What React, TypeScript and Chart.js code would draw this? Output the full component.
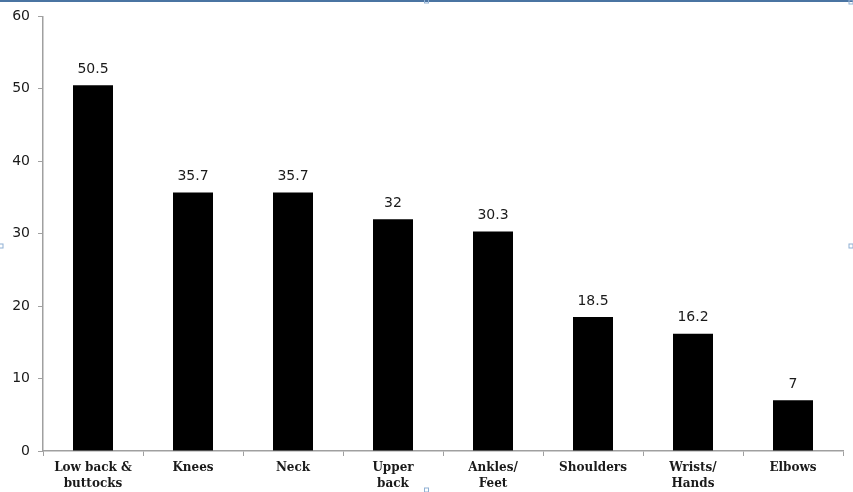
import React, { useEffect, useRef } from "react";
import { Chart, registerables } from "chart.js";

Chart.register(...registerables);

const categories: (string | string[])[] = [
  ["Low back &", "buttocks"],
  "Knees",
  "Neck",
  ["Upper", "back"],
  ["Ankles/", "Feet"],
  "Shoulders",
  ["Wrists/", "Hands"],
  "Elbows",
];
const values: number[] = [50.5, 35.7, 35.7, 32, 30.3, 18.5, 16.2, 7];
const yTicks: number[] = [0, 10, 20, 30, 40, 50, 60];

const axisGray = "#a0a0a0";

const valueLabels = {
  id: "valueLabels",
  afterDatasetsDraw(chart: any) {
    const ctx = chart.ctx;
    const meta = chart.getDatasetMeta(0);
    ctx.save();
    ctx.font = "14px 'DejaVu Sans'";
    ctx.fillStyle = "#1a1a1a";
    ctx.textAlign = "center";
    ctx.textBaseline = "bottom";
    meta.data.forEach((el: any, i: number) => {
      ctx.fillText(String(values[i]), el.x, el.y - 9);
    });
    ctx.restore();
  },
};

const frame = {
  id: "frame",
  afterDraw(chart: any) {
    const ctx = chart.ctx;
    const w = chart.width;
    const h = chart.height;
    ctx.save();
    ctx.strokeStyle = "#4a74a2";
    ctx.lineWidth = 2;
    ctx.beginPath();
    ctx.moveTo(0, 1);
    ctx.lineTo(w, 1);
    ctx.stroke();
    ctx.strokeStyle = "#8fb0d4";
    ctx.lineWidth = 1;
    const handles = [
      [w / 2, 1],
      [w - 2, 2],
      [1, h / 2],
      [w - 2, h / 2],
      [w / 2, h - 2],
    ];
    handles.forEach(([x, y]) => {
      ctx.strokeRect(x - 2, y - 2, 4, 4);
    });
    ctx.restore();
  },
};

export default function App() {
  const ref = useRef<HTMLCanvasElement | null>(null);
  useEffect(() => {
    if (!ref.current) return;
    const chart = new Chart(ref.current, {
      type: "bar",
      data: {
        labels: categories,
        datasets: [
          {
            data: values,
            backgroundColor: "#000000",
            borderWidth: 0,
            barPercentage: 0.4,
            categoryPercentage: 1.0,
          },
        ],
      },
      options: {
        animation: false,
        responsive: false,
        maintainAspectRatio: false,
        layout: { padding: { left: 0, right: 10, top: 14, bottom: 0 } },
        plugins: {
          legend: { display: false },
          tooltip: { enabled: false },
        },
        scales: {
          x: {
            grid: {
              display: true,
              drawOnChartArea: false,
              drawTicks: true,
              tickLength: 5,
              color: axisGray,
              offset: true,
            },
            border: { display: true, color: axisGray, width: 1.5 },
            ticks: {
              color: "#1a1a1a",
              font: { family: "'DejaVu Serif'", size: 12, weight: "bold", lineHeight: 1.4 },
              padding: 3,
              maxRotation: 0,
              autoSkip: false,
            },
            afterFit(scale: any) {
              scale.height = 41;
            },
          },
          y: {
            min: 0,
            max: 60,
            afterBuildTicks(scale: any) {
              scale.ticks = yTicks.map((v) => ({ value: v }));
            },
            grid: {
              display: true,
              drawOnChartArea: false,
              drawTicks: true,
              tickLength: 5,
              color: axisGray,
            },
            border: { display: true, color: axisGray, width: 1.5 },
            ticks: {
              color: "#1a1a1a",
              font: { family: "'DejaVu Sans'", size: 14 },
              padding: 8,
            },
            afterFit(scale: any) {
              scale.width = 43;
            },
          },
        },
      },
      plugins: [valueLabels, frame],
    });
    return () => chart.destroy();
  }, []);
  return (
    <div style={{ position: "absolute", left: 0, top: 0, width: 853, height: 492, background: "#fff" }}>
      <canvas ref={ref} width={853} height={492} style={{ display: "block" }} />
    </div>
  );
}
